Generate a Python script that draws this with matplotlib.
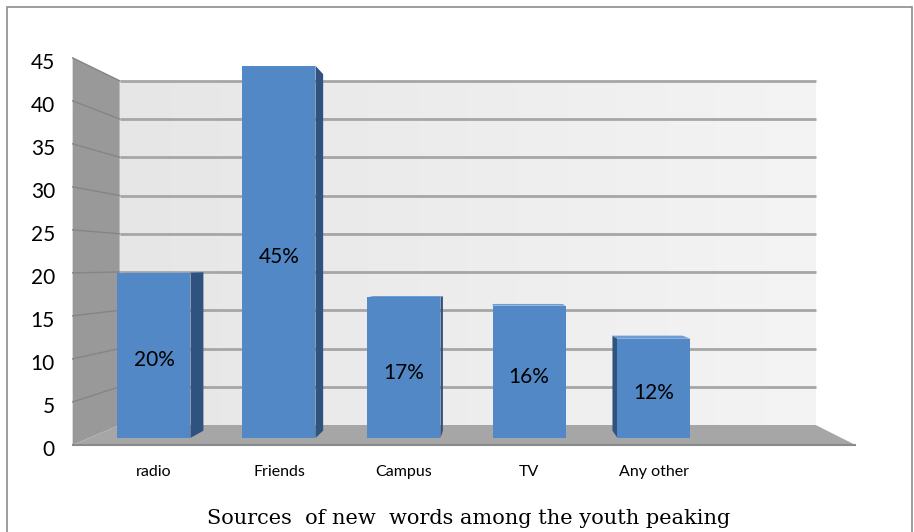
import numpy as np
import matplotlib.pyplot as plt
from matplotlib.patches import Polygon, Rectangle

# data
categories = ['radio', 'Friends', 'Campus', 'TV', 'Any other']
values = [20, 45, 17, 16, 12]
bar_labels = ['20%', '45%', '17%', '16%', '12%']
yticks = [0, 5, 10, 15, 20, 25, 30, 35, 40, 45]
title = 'Sources  of new  words among the youth peaking'

# fake 3D: everything is scaled toward a vanishing point
VP = (2.75, 20.9)
S_FRONT, S_BACK, S_BAR = 1.04, 0.925, 0.958
LEFT, RIGHT, TOP = -0.52, 5.5, 45
BAR_W = 0.584


def proj(x, y, s):
    return (VP[0] + s * (x - VP[0]), VP[1] + s * (y - VP[1]))


fig = plt.figure(figsize=(9.14, 5.32), dpi=100)
ax = fig.add_axes([0, 0, 1, 1])
ax.set_xlim(-1.232, 6.08)
ax.set_ylim(-11.37, 52.96)
ax.axis('off')

# walls and floor
left_wall = [proj(LEFT, 0, S_FRONT), proj(LEFT, TOP, S_FRONT),
             proj(LEFT, TOP, S_BACK), proj(LEFT, 0, S_BACK)]
back_wall = [proj(LEFT, 0, S_BACK), proj(LEFT, TOP, S_BACK),
             proj(RIGHT, TOP, S_BACK), proj(RIGHT, 0, S_BACK)]
floor = [proj(LEFT, 0, S_FRONT), proj(RIGHT, 0, S_FRONT),
         proj(RIGHT, 0, S_BACK), proj(LEFT, 0, S_BACK)]
ax.add_patch(Polygon(left_wall, closed=True, fc='#999999', ec='none', zorder=1))

# back wall with a soft left-to-right gradient
bw = Polygon(back_wall, closed=True, fc='none', ec='none')
ax.add_patch(bw)
bx0, by0 = back_wall[0]
bx1, by1 = back_wall[2]
grad = np.linspace(0, 1, 256).reshape(1, -1)
im = ax.imshow(grad, extent=(bx0, bx1, by0, by1), cmap=plt.matplotlib.colors.LinearSegmentedColormap.from_list('w', ['#e6e6e6', '#f4f4f4']),
               aspect='auto', zorder=1, interpolation='bicubic')
im.set_clip_path(bw)

for t in yticks[1:]:
    (x0, y0), (x1, y1) = proj(LEFT, t, S_BACK), proj(RIGHT, t, S_BACK)
    ax.plot([x0, x1], [y0, y1], color='#a6a6a6', lw=2, zorder=2,
            solid_capstyle='butt')
    (x2, y2) = proj(LEFT, t, S_FRONT)
    ax.plot([x2, x0], [y2, y0], color='#858585', lw=1, zorder=2)

ax.add_patch(Polygon(floor, closed=True, fc='#a6a6a6', ec='none', zorder=3))
(fx0, fy0), (fx1, fy1) = proj(LEFT, 0, S_FRONT), proj(RIGHT, 0, S_FRONT)
ax.plot([fx0, fx1], [fy0, fy1], color='#8a8a8a', lw=1.5, zorder=3)

# bars
for i, v in enumerate(values):
    x0, x1 = i - BAR_W / 2, i + BAR_W / 2
    if x1 < VP[0]:
        side = [(x1, 0), (x1, v), proj(x1, v, S_BAR), proj(x1, 0, S_BAR)]
        ax.add_patch(Polygon(side, closed=True, fc='#30527f', ec='none', zorder=4))
    elif x0 > VP[0]:
        side = [(x0, 0), (x0, v), proj(x0, v, S_BAR), proj(x0, 0, S_BAR)]
        ax.add_patch(Polygon(side, closed=True, fc='#30527f', ec='none', zorder=4))
    if v < VP[1]:
        top = [(x0, v), (x1, v), proj(x1, v, S_BAR), proj(x0, v, S_BAR)]
        ax.add_patch(Polygon(top, closed=True, fc='#6d9bd3', ec='none', zorder=4))

ax.bar(range(len(values)), values, BAR_W, color='#5288c6', zorder=5)

for i, v in enumerate(values):
    ax.text(i, v / 2 - 0.6, bar_labels[i], ha='center', va='center',
            fontsize=15, family='Lato', zorder=6)

# tick labels on the front plane
for t in yticks:
    y = proj(LEFT, t, S_FRONT)[1]
    ax.text(-0.792, y - 0.6, str(t), ha='right', va='center',
            fontsize=15, family='Lato')

for i, c in enumerate(categories):
    ax.text(i, -4.1, c, ha='center', va='center', fontsize=11.5, family='Lato')

fig.text(469 / 914, 1 - 519 / 532, title, ha='center', va='center',
         fontsize=15, family='DejaVu Serif')

fig.patches.append(Rectangle((7 / 914, -0.1), 905 / 914, 1.1 - 7 / 532,
                             transform=fig.transFigure, fill=False,
                             ec='#8c8c8c', lw=1.2))

fig.savefig('out.png', dpi=100)
